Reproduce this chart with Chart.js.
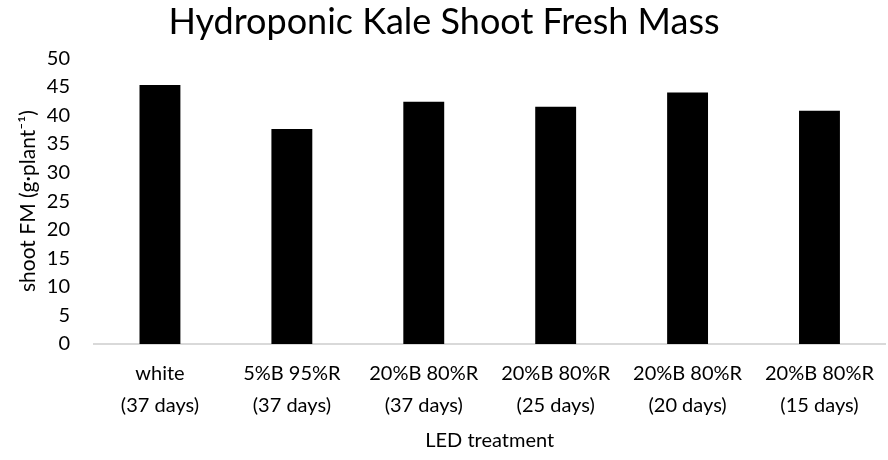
<!DOCTYPE html>
<html>
<head>
<meta charset="utf-8">
<script src="https://cdn.jsdelivr.net/npm/chart.js@4"></script>
<style>
  body { margin: 0; background: #fff; }
  #wrap { width: 888px; height: 460px; }
</style>
</head>
<body>
<div id="wrap"><canvas id="barChart"></canvas></div>
<script>
// treatments and measured shoot fresh mass
const treatments = [
  ['white', '(37 days)'],
  ['5%B 95%R', '(37 days)'],
  ['20%B 80%R', '(37 days)'],
  ['20%B 80%R', '(25 days)'],
  ['20%B 80%R', '(20 days)'],
  ['20%B 80%R', '(15 days)']
];
const freshMass = [45.3, 37.6, 42.4, 41.5, 44.0, 40.8];
const yTicks = [0, 5, 10, 15, 20, 25, 30, 35, 40, 45, 50];

const font = 'Lato';

const ctx = document.getElementById('barChart').getContext('2d');
new Chart(ctx, {
  type: 'bar',
  data: {
    labels: treatments,
    datasets: [{
      label: 'shoot FM',
      data: freshMass,
      backgroundColor: '#000',
      borderWidth: 0,
      barPercentage: 0.31,
      categoryPercentage: 1
    }]
  },
  options: {
    responsive: true,
    maintainAspectRatio: false,
    animation: false,
    layout: { padding: { left: 0, right: 0, top: 1, bottom: 2 } },
    plugins: {
      legend: { display: false },
      tooltip: { enabled: false },
      title: {
        display: true,
        text: 'Hydroponic Kale Shoot Fresh Mass',
        color: '#000',
        font: { family: font, size: 36, weight: 'normal' },
        padding: { top: 0, bottom: 14 }
      }
    },
    scales: {
      x: {
        afterFit: axis => { axis.height = 114; },
        grid: { display: false, drawTicks: false },
        border: { display: true, color: '#d9d9d9', width: 2 },
        ticks: {
          color: '#000',
          font: { family: font, size: 20, lineHeight: 1.6 },
          padding: 14,
          maxRotation: 0
        },
        title: {
          display: true,
          text: 'LED treatment',
          color: '#000',
          font: { family: font, size: 20 },
          padding: { top: 0, bottom: 5 }
        }
      },
      y: {
        min: 0,
        max: 50,
        afterBuildTicks: axis => { axis.ticks = yTicks.map(v => ({ value: v })); },
        afterFit: axis => { axis.width = 94; },
        grid: { display: false, drawTicks: false },
        border: { display: false },
        ticks: {
          color: '#000',
          font: { family: font, size: 20 },
          padding: 24
        },
        title: {
          display: true,
          text: 'shoot FM (g\u00b7plant\u207b\u00b9)',
          color: '#000',
          font: { family: font, size: 21 },
          padding: { top: 16, bottom: 0 }
        }
      }
    }
  }
});
</script>
</body>
</html>
